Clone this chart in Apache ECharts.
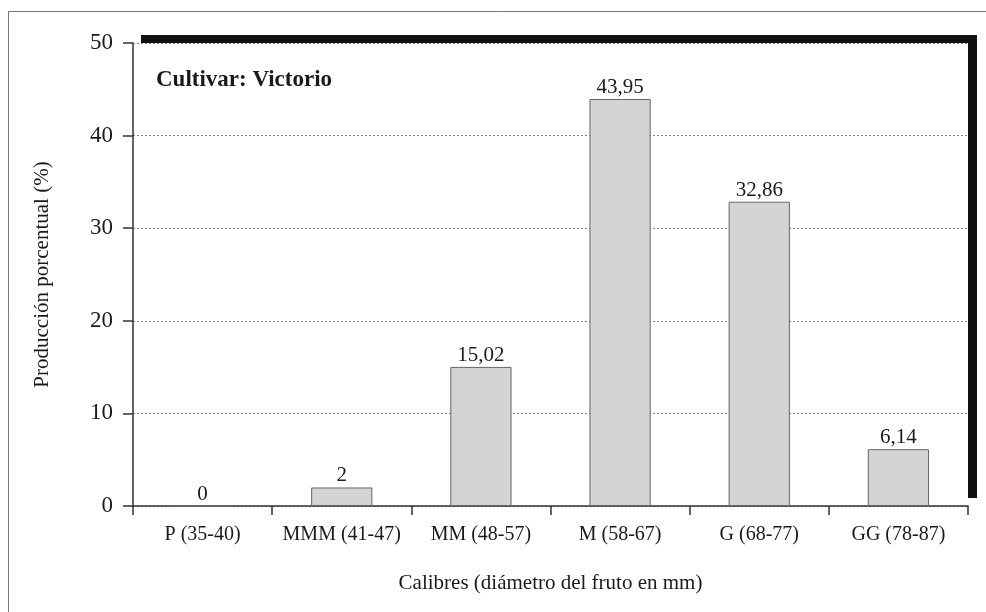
<!DOCTYPE html>
<html>
<head>
<meta charset="utf-8">
<script src="https://cdn.jsdelivr.net/npm/echarts@6/dist/echarts.min.js"></script>
<style>html,body{margin:0;padding:0;background:#fff}#c{width:986px;height:612px}</style>
</head>
<body>
<div id="c"></div>
<script>
const categories = ['P (35-40)', 'MMM (41-47)', 'MM (48-57)', 'M (58-67)', 'G (68-77)', 'GG (78-87)'];
const values = [0, 2, 15.02, 43.95, 32.86, 6.14];
const yTicks = [0, 10, 20, 30, 40, 50];
const titleText = 'Cultivar: Victorio';
const xName = 'Calibres (diámetro del fruto en mm)';
const yName = 'Producción porcentual (%)';

const FONT = '"Liberation Serif", "DejaVu Serif", serif';
const chart = echarts.init(document.getElementById('c'));
chart.setOption({
  backgroundColor: '#fff',
  animation: false,
  textStyle: { fontFamily: FONT, color: '#1a1a1a' },
  title: {
    text: titleText, left: 156, top: 69, padding: 0,
    textStyle: { fontFamily: FONT, fontWeight: 'bold', fontSize: 23, color: '#1a1a1a' }
  },
  graphic: [
    { type: 'rect', shape: { x: 8.5, y: 11.5, width: 1000, height: 700 }, style: { fill: 'none', stroke: '#777', lineWidth: 1 }, silent: true },
    { type: 'rect', shape: { x: 141, y: 35, width: 836, height: 8 }, style: { fill: '#111' }, silent: true },
    { type: 'rect', shape: { x: 968, y: 35, width: 9, height: 463 }, style: { fill: '#111' }, silent: true }
  ],
  grid: { left: 133, right: 18, top: 43, bottom: 106, containLabel: false },
  xAxis: {
    type: 'category',
    data: categories,
    boundaryGap: true,
    name: xName, nameLocation: 'middle', nameGap: 67,
    nameTextStyle: { fontFamily: FONT, fontSize: 21, color: '#1a1a1a' },
    axisLine: { show: true, lineStyle: { color: '#333', width: 1.5 } },
    axisTick: { show: true, length: 9, alignWithLabel: false, lineStyle: { color: '#333', width: 1.5 } },
    axisLabel: { fontFamily: FONT, fontSize: 20, color: '#1a1a1a', margin: 19, interval: 0 },
    splitLine: { show: false }
  },
  yAxis: {
    type: 'value', min: 0, max: 50, interval: 10,
    name: yName, nameLocation: 'middle', nameGap: 80, nameRotate: 90,
    nameTextStyle: { fontFamily: FONT, fontSize: 21, color: '#1a1a1a' },
    axisLine: { show: true, lineStyle: { color: '#333', width: 1.5 } },
    axisTick: { show: true, length: 10, lineStyle: { color: '#333', width: 1.5 } },
    axisLabel: {
      fontFamily: FONT, fontSize: 23, color: '#1a1a1a', margin: 20,
      formatter: v => yTicks.includes(v) ? String(v) : ''
    },
    splitLine: { show: true, lineStyle: { color: '#888', type: [2, 2], width: 1 } }
  },
  series: [{
    type: 'bar',
    data: values,
    barWidth: '44%',
    itemStyle: { color: '#d4d4d4', borderColor: '#666', borderWidth: 1 },
    label: {
      show: true, position: 'top', distance: 1,
      fontFamily: FONT, fontSize: 21, color: '#1a1a1a',
      formatter: p => String(p.value).replace('.', ',')
    }
  }]
});
</script>
</body>
</html>
